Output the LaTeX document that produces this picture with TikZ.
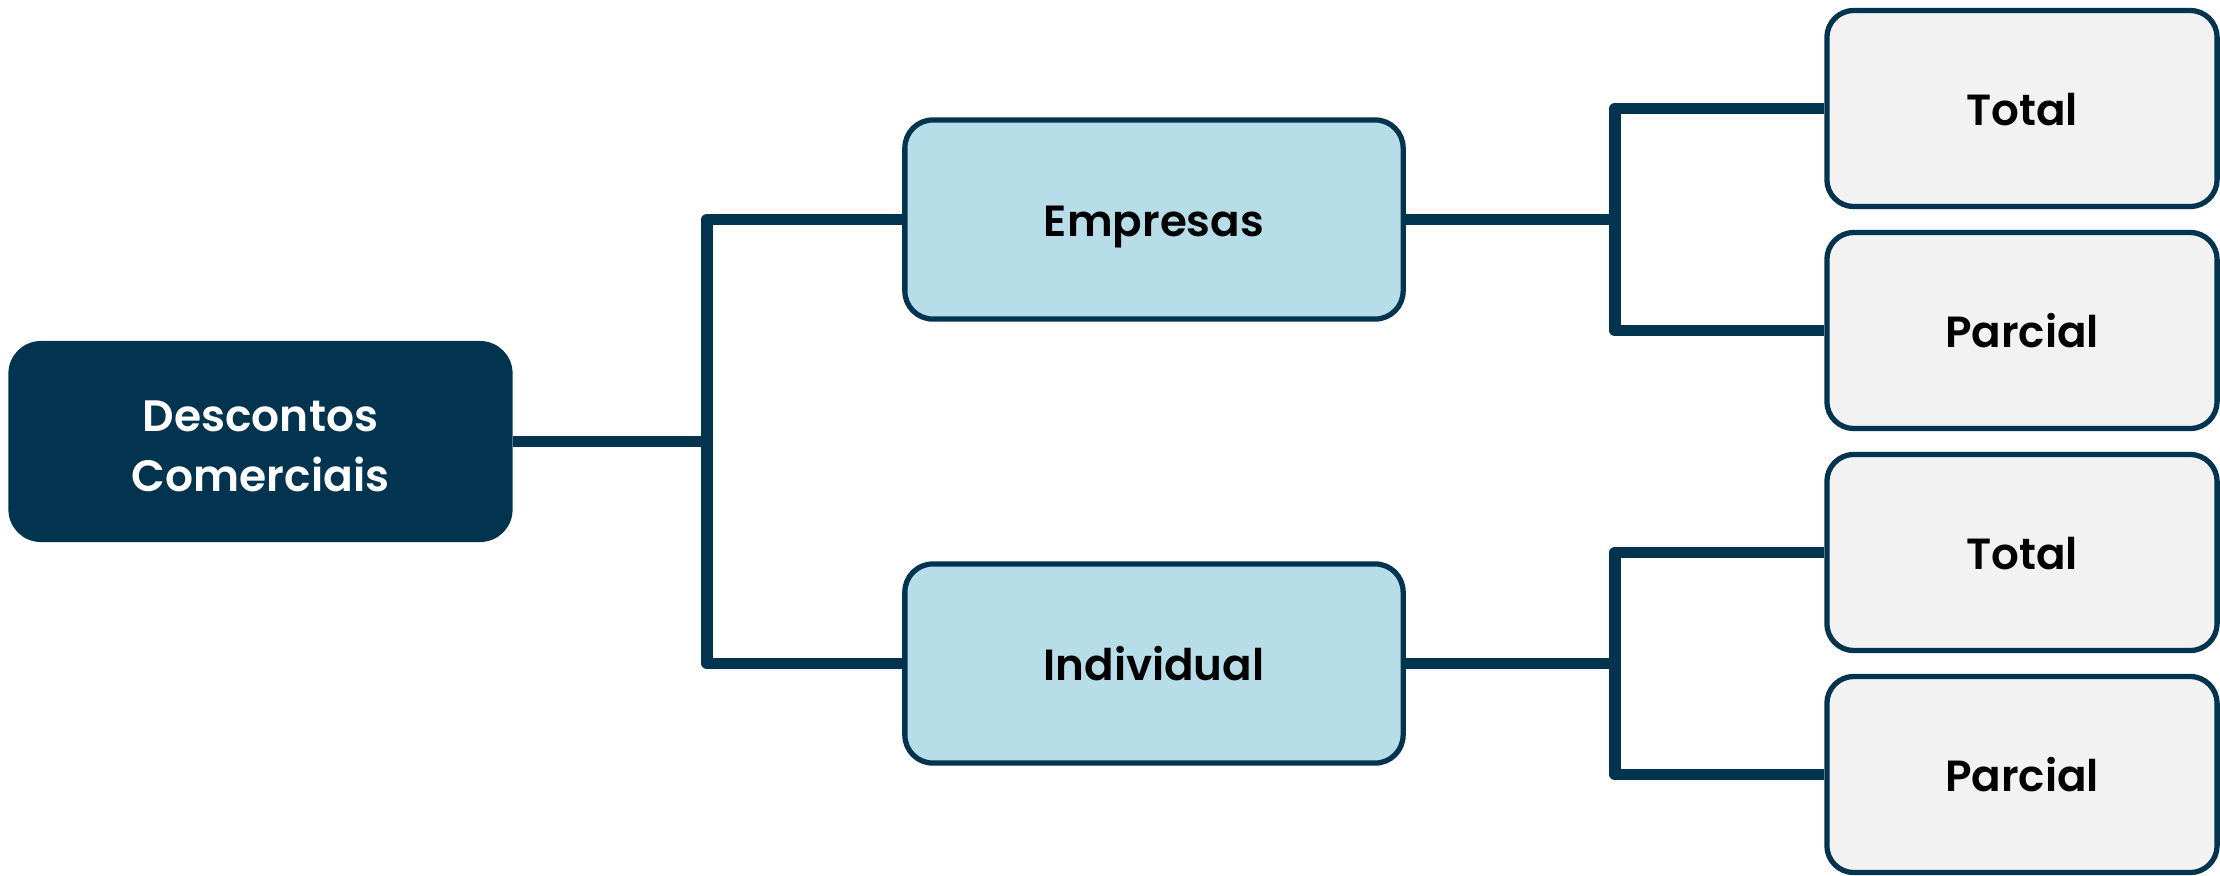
\documentclass[tikz,border=0pt]{standalone}
\usepackage{fontspec}
\setmainfont{Poppins}[BoldFont={Poppins SemiBold}]
\definecolor{navy}{HTML}{023450}
\definecolor{lblue}{HTML}{B7DEE8}
\definecolor{lgray}{HTML}{F2F2F2}
\begin{document}
\begin{tikzpicture}[x=0.01cm,y=-0.01cm,
  rootbox/.style={rectangle,rounded corners=0.3cm,fill=navy,draw=navy,line width=1.4pt,
    minimum width=4.99cm,minimum height=1.96cm,text=white,align=center,
    text height=28.4pt,text depth=0pt,
    font=\fontsize{12.5}{17}\selectfont\bfseries,inner sep=0pt},
  midbox/.style={rectangle,rounded corners=0.28cm,fill=lblue,draw=navy,line width=1.5pt,
    minimum width=4.98cm,minimum height=1.99cm,text=black,text height=9.8pt,text depth=0pt,
    font=\fontsize{12.4}{14.5}\selectfont\bfseries,inner sep=0pt},
  leafbox/.style={rectangle,rounded corners=0.27cm,fill=lgray,draw=navy,line width=1.5pt,
    minimum width=3.90cm,minimum height=1.96cm,text=black,text height=9.6pt,text depth=0pt,
    font=\fontsize{12.4}{14.5}\selectfont\bfseries,inner sep=0pt},
  link/.style={draw=navy,line width=3.3pt,line join=round}]
\useasboundingbox (0,0) rectangle (2220,875);

\coordinate (j1) at (707,441.5);
\coordinate (j2) at (1615,219.5);
\coordinate (j3) at (1615,663.5);

\node[rootbox] (root) at (260.5,441.5) {Descontos\\Comerciais};
\node[midbox] (emp) at (1154,219.5) {Empresas};
\node[midbox] (ind) at (1154,663.5) {Individual};
\node[leafbox] (t1) at (2022,108.5) {Total};
\node[leafbox] (p1) at (2022,330.5) {Parcial};
\node[leafbox] (t2) at (2022,552.5) {Total};
\node[leafbox] (p2) at (2022,774.5) {Parcial};

\draw[link] (root.east) -- (j1);
\draw[link] (emp.west) -| (j1) |- (ind.west);
\draw[link] (emp.east) -- (j2);
\draw[link] (t1.west) -| (j2) |- (p1.west);
\draw[link] (ind.east) -- (j3);
\draw[link] (t2.west) -| (j3) |- (p2.west);
\end{tikzpicture}
\end{document}
